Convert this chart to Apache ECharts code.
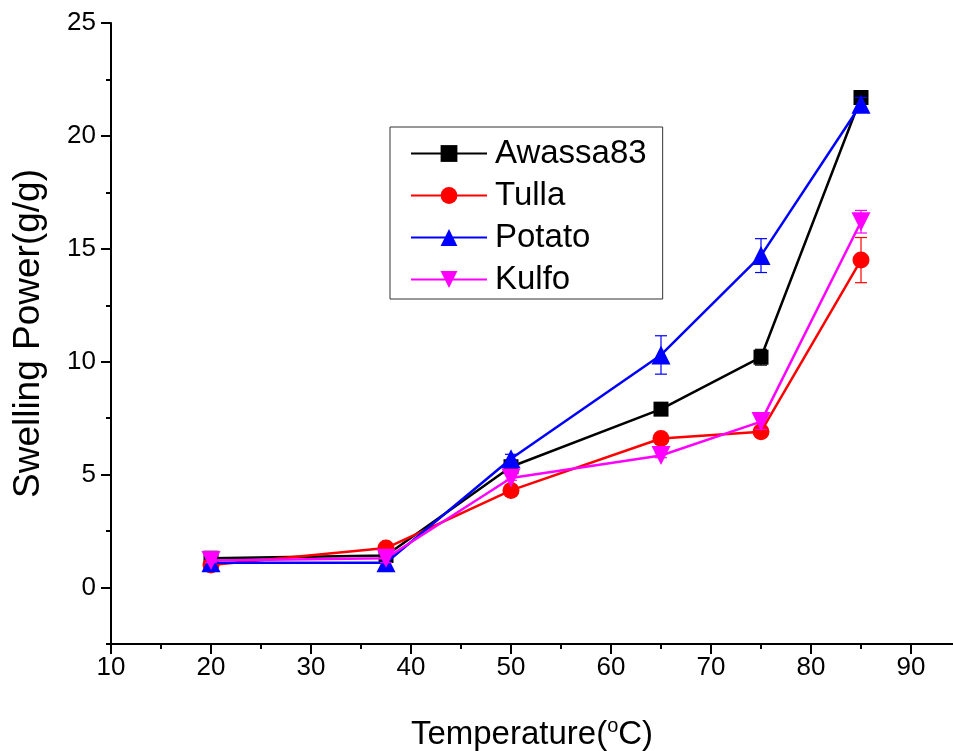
<!DOCTYPE html>
<html>
<head>
<meta charset="utf-8">
<script src="https://cdn.jsdelivr.net/npm/echarts@6/dist/echarts.min.js"></script>
<style>
html,body{margin:0;padding:0;background:#fff;}
#chart{width:953px;height:751px;}
</style>
</head>
<body>
<div id="chart"></div>
<script>
// ---- data ----
var temps = [20, 37.5, 50, 65, 75, 85];
var seriesNames = ['Awassa83', 'Tulla', 'Potato', 'Kulfo'];
var awassa = [1.3, 1.42, 5.35, 7.9, 10.2, 21.7];
var awassaErr = [0.1, 0.1, 0.15, 0.15, 0.35, 0.2];
var tulla = [1.0, 1.75, 4.3, 6.6, 6.9, 14.5];
var tullaErr = [0.1, 0.1, 0.15, 0.2, 0.15, 1.0];
var potato = [1.1, 1.1, 5.7, 10.3, 14.7, 21.4];
var potatoErr = [0.15, 0.2, 0.2, 0.85, 0.75, 0.3];
var kulfo = [1.2, 1.3, 4.85, 5.85, 7.35, 16.2];
var kulfoErr = [0.1, 0.2, 0.1, 0.1, 0.35, 0.5];
var xMajorTicks = [10, 20, 30, 40, 50, 60, 70, 80, 90];
var xMinorTicks = [15, 25, 35, 45, 55, 65, 75, 85];
var yMajorTicks = [0, 5, 10, 15, 20, 25];
var yMinorTicks = [-2.5, 2.5, 7.5, 12.5, 17.5, 22.5];

// ---- styles ----
var colors = ['#000000', '#ff0000', '#0000ff', '#ff00ff'];
var symbols = ['rect', 'circle', 'triangle', 'triangle'];
var symbolSizes = [15, 17, 19, 19];
var symbolRotates = [0, 0, 0, 180];
var values = [awassa, tulla, potato, kulfo];
var errs = [awassaErr, tullaErr, potatoErr, kulfoErr];
var FONT = '"Liberation Sans", Arial, sans-serif';

function pairs(ys) { return temps.map(function (t, i) { return [t, ys[i]]; }); }
function errData(ys, es) { return temps.map(function (t, i) { return [t, ys[i] - es[i], ys[i] + es[i]]; }); }

function errRender(color) {
  return function (params, api) {
    var x = api.value(0), lo = api.value(1), hi = api.value(2);
    var pLo = api.coord([x, lo]);
    var pHi = api.coord([x, hi]);
    var cap = 6;
    var st = { stroke: color, lineWidth: 1.2 };
    return {
      type: 'group',
      children: [
        { type: 'line', shape: { x1: pLo[0], y1: pLo[1], x2: pHi[0], y2: pHi[1] }, style: st },
        { type: 'line', shape: { x1: pLo[0] - cap, y1: pLo[1], x2: pLo[0] + cap, y2: pLo[1] }, style: st },
        { type: 'line', shape: { x1: pHi[0] - cap, y1: pHi[1], x2: pHi[0] + cap, y2: pHi[1] }, style: st }
      ]
    };
  };
}

var series = [];
seriesNames.forEach(function (n, i) {
  series.push({
    name: n + ' err',
    type: 'custom',
    renderItem: errRender(colors[i]),
    data: errData(values[i], errs[i]),
    encode: { x: 0, y: [1, 2] },
    z: 2 + i * 2,
    silent: true
  });
  series.push({
    name: n,
    type: 'line',
    data: pairs(values[i]),
    symbol: symbols[i],
    symbolSize: symbolSizes[i],
    symbolRotate: symbolRotates[i],
    showAllSymbol: true,
    lineStyle: { color: colors[i], width: 2.5 },
    itemStyle: { color: colors[i], borderWidth: 0 },
    z: 3 + i * 2,
    animation: false
  });
});

var axisLine = { show: true, onZero: false, lineStyle: { color: '#000', width: 2 } };

var option = {
  animation: false,
  backgroundColor: '#ffffff',
  grid: { left: 111, right: 0, top: 23, bottom: 107, containLabel: false, outerBoundsMode: 'none' },
  legend: {
    data: seriesNames,
    orient: 'vertical',
    left: 390,
    top: 127,
    itemWidth: 76,
    itemHeight: 21,
    itemGap: 9,
    padding: [10, 16, 3, 20],
    borderColor: '#333',
    borderWidth: 1,
    textStyle: { fontFamily: FONT, fontSize: 33, color: '#000', lineHeight: 32, padding: [0, 0, 0, 3] },
    selectedMode: false
  },
  xAxis: [{
    type: 'value',
    min: 10, max: 94.2, interval: 10,
    axisLine: axisLine,
    axisTick: { show: true, customValues: xMajorTicks, length: 10, lineStyle: { color: '#000', width: 2 } },
    axisLabel: { customValues: xMajorTicks, margin: 11, fontFamily: FONT, fontSize: 26, color: '#000' },
    splitLine: { show: false },
    name: 'Temperature({sup|o}C)',
    nameLocation: 'middle',
    nameGap: 72,
    nameTextStyle: {
      fontFamily: FONT, fontSize: 33, color: '#000', lineHeight: 38,
      rich: { sup: { fontFamily: FONT, fontSize: 20, verticalAlign: 'top', lineHeight: 22, color: '#000' } }
    }
  }, {
    type: 'value',
    min: 10, max: 94.2, interval: 10,
    position: 'bottom',
    axisLine: { show: false, onZero: false },
    axisTick: { show: true, customValues: xMinorTicks, length: 5, lineStyle: { color: '#000', width: 2 } },
    axisLabel: { show: false },
    splitLine: { show: false }
  }],
  yAxis: [{
    type: 'value',
    min: -2.5, max: 25, interval: 2.5,
    axisLine: axisLine,
    axisTick: { show: true, customValues: yMajorTicks, length: 10, lineStyle: { color: '#000', width: 2 } },
    axisLabel: { customValues: yMajorTicks, margin: 15, fontFamily: FONT, fontSize: 26, color: '#000' },
    splitLine: { show: false },
    name: 'Swelling Power(g/g)',
    nameLocation: 'middle',
    nameGap: 63,
    nameTextStyle: { fontFamily: FONT, fontSize: 37, color: '#000', lineHeight: 38 }
  }, {
    type: 'value',
    min: -2.5, max: 25, interval: 2.5,
    position: 'left',
    axisLine: { show: false, onZero: false },
    axisTick: { show: true, customValues: yMinorTicks, length: 5, lineStyle: { color: '#000', width: 2 } },
    axisLabel: { show: false },
    splitLine: { show: false }
  }],
  series: series
};

var chart = echarts.init(document.getElementById('chart'), null, { renderer: 'canvas' });
chart.setOption(option);
</script>
</body>
</html>
